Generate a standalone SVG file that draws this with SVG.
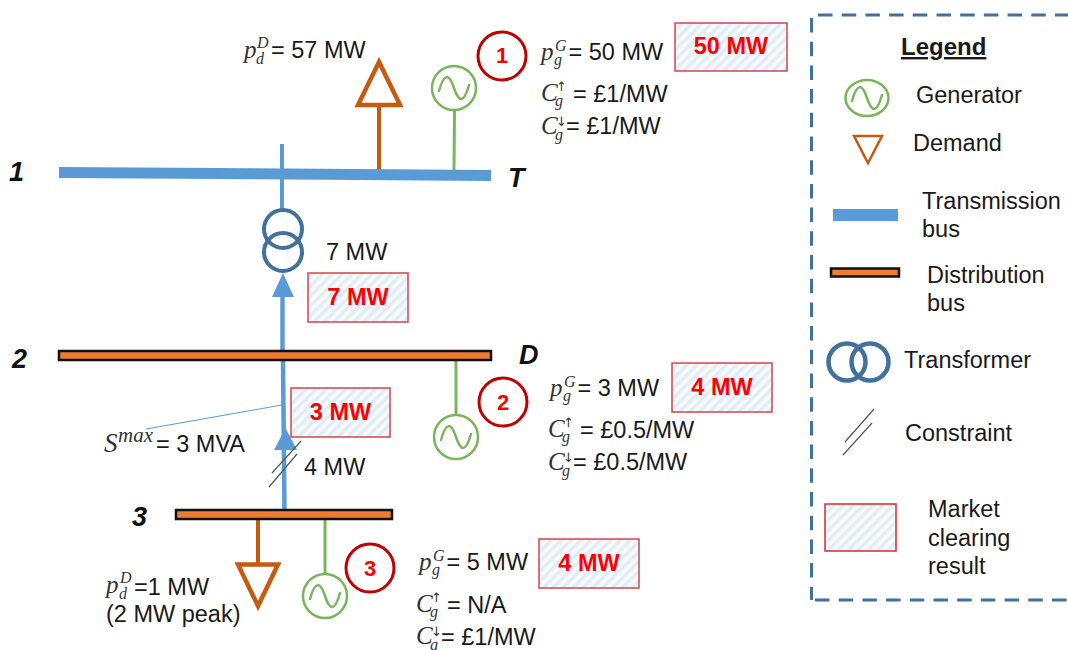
<svg xmlns="http://www.w3.org/2000/svg" xmlns:xlink="http://www.w3.org/1999/xlink" width="1068" height="650" viewBox="0 0 1068 650">
<style>
text{font-family:"Liberation Sans",Arial,sans-serif;font-size:23.500px;fill:#1a1a1a}
.m{font-family:"Liberation Serif","Times New Roman",serif;font-style:italic;fill:#333}
.b{font-size:25px}.s{font-size:16px}
.up{font-family:"DejaVu Sans",sans-serif;font-style:normal;font-size:13px;fill:#333}
.res{font-weight:bold;fill:#ff0000;text-anchor:middle}
.num{font-weight:bold;font-style:italic;font-size:27px;fill:#111}
.box{fill:url(#hatch);stroke:#d0454c;stroke-width:1.5}
.badge{fill:#fff;stroke:#c00000;stroke-width:3}
.bn{font-weight:bold;font-size:22px;fill:#ff0000;text-anchor:middle}
.gen{fill:#fff;stroke:#7ab55c;stroke-width:2.5}
.sine{fill:none;stroke:#7ab55c;stroke-width:2.5;stroke-linecap:round}
.gl{fill:none;stroke:#7ab55c;stroke-width:3}
.dem{fill:#fff;stroke:#c55a11;stroke-width:4.5}
.dl{stroke:#c55a11;stroke-width:4;fill:none}
.flow{stroke:#5b9bd5;stroke-width:4.5;fill:none}
.head{fill:#5b9bd5}
.tx{fill:none;stroke:#41719c;stroke-width:4}
.dbus{fill:#ed7d31;stroke:#111;stroke-width:2.5}
.con{stroke:#555;stroke-width:1.2}
.frame{fill:none;stroke:#41719c;stroke-width:3;stroke-dasharray:14.500 9.200}
</style>
<defs>
<pattern id="hatch" width="7" height="7" patternUnits="userSpaceOnUse" patternTransform="rotate(45)">
<rect width="7" height="7" fill="#f8fbfe"/><rect width="3.500" height="7" fill="#e2ecf7"/>
</pattern>
<path id="sine" class="sine" d="M-15,3 C-10,-15 -5,-15 0,0 C5,15 10,15 15,-3"/>
</defs>

<g id="connectors">
<line class="flow" x1="282" y1="144" x2="282" y2="212" style="stroke-width:4"/>
<line class="flow" x1="282.500" y1="295" x2="282.500" y2="351"/>
<line class="flow" x1="283" y1="361" x2="284.500" y2="511"/>
<polygon class="head" points="283,273 294,297 272,297"/>
<polygon class="head" points="285.500,428 297,450 274,450"/>
<line x1="146" y1="429" x2="282" y2="405" stroke="#5b9bd5" stroke-width="1"/>
<line class="con" x1="272" y1="473" x2="301" y2="441"/>
<line class="con" x1="269" y1="487" x2="297" y2="454"/>
<line class="dl" x1="379" y1="107" x2="379" y2="170"/>
<line class="gl" x1="454.500" y1="110" x2="454" y2="170"/>
<line class="gl" x1="456" y1="361" x2="456" y2="415"/>
<line class="dl" x1="258" y1="519" x2="258" y2="564"/>
<line class="gl" x1="325" y1="519" x2="325" y2="574"/>
</g>

<g id="bus1"><polygon points="59,167 491,170 491,181 59,178" fill="#5b9bd5"/><text class="num" x="9" y="181">1</text><text class="num" x="508" y="187">T</text></g>
<g id="bus2"><rect class="dbus" x="59" y="351" width="432" height="9"/><text class="num" x="12" y="368">2</text><text class="num" x="519" y="364">D</text></g>
<g id="bus3"><rect class="dbus" x="176" y="510" width="216" height="9"/><text class="num" x="132" y="526">3</text></g>

<g id="transformer"><circle class="tx" cx="283" cy="229" r="19"/><circle class="tx" cx="283" cy="252" r="19"/></g>

<g id="demand1"><polygon class="dem" points="379,62 358,105 400,105"/>
<text class="m b" x="244" y="58">p</text><text class="m s" x="257" y="48">D</text><text class="m s" x="256" y="64">d</text><text x="271" y="58">= 57 MW</text></g>

<g id="gen1"><circle class="gen" cx="454" cy="88" r="22"/><use xlink:href="#sine" href="#sine" x="454" y="88"/>
<circle class="badge" cx="502" cy="56" r="24"/><text class="bn" x="502" y="63">1</text>
<text class="m b" x="541" y="60">p</text><text class="m s" x="555" y="51">G</text><text class="m s" x="554" y="65">g</text><text x="568.500" y="60">= 50 MW</text>
<text class="m b" x="541" y="101">C</text><text class="up" x="556" y="91">↑</text><text class="m s" x="555" y="106">g</text><text x="573" y="102">= £1/MW</text>
<text class="m b" x="541" y="134">C</text><text class="up" x="556" y="126">↓</text><text class="m s" x="555" y="140">g</text><text x="566" y="134">= £1/MW</text>
<rect class="box" x="675" y="23" width="112" height="48"/><text class="res" x="731" y="54">50 MW</text></g>

<g id="flow12"><text x="326" y="260">7 MW</text><rect class="box" x="308" y="273" width="100" height="49"/><text class="res" x="358" y="305">7 MW</text></g>

<g id="flow23"><text class="m" x="104" y="452" style="font-size:27px">S</text><text class="m" x="118" y="442" style="font-size:21px">max</text><text x="156" y="452">= 3 MVA</text>
<text x="304" y="475">4 MW</text><rect class="box" x="291" y="388" width="99" height="49"/><text class="res" x="340.500" y="420">3 MW</text></g>

<g id="gen2"><circle class="gen" cx="456" cy="437" r="22"/><use xlink:href="#sine" href="#sine" x="456" y="437"/>
<circle class="badge" cx="503" cy="402" r="24"/><text class="bn" x="503" y="410">2</text>
<text class="m b" x="550" y="396">p</text><text class="m s" x="564" y="387">G</text><text class="m s" x="563" y="401">g</text><text x="577.500" y="396">= 3 MW</text>
<text class="m b" x="548" y="437">C</text><text class="up" x="563" y="427">↑</text><text class="m s" x="562" y="442">g</text><text x="580" y="438">= £0.5/MW</text>
<text class="m b" x="548" y="470">C</text><text class="up" x="563" y="462">↓</text><text class="m s" x="562" y="476">g</text><text x="573" y="470">= £0.5/MW</text>
<rect class="box" x="672" y="363" width="100" height="49"/><text class="res" x="722" y="395">4 MW</text></g>

<g id="demand3"><polygon class="dem" points="238,564.500 278,564.500 258,606"/>
<text class="m b" x="106" y="593">p</text><text class="m s" x="120" y="583">D</text><text class="m s" x="119" y="599">d</text><text x="134" y="595">=1 MW</text><text x="106" y="622">(2 MW peak)</text></g>

<g id="gen3"><circle class="gen" cx="325" cy="596" r="22"/><use xlink:href="#sine" href="#sine" x="325" y="596"/>
<circle class="badge" cx="370" cy="568" r="24"/><text class="bn" x="370" y="576">3</text>
<text class="m b" x="419" y="570">p</text><text class="m s" x="433" y="561">G</text><text class="m s" x="432" y="575">g</text><text x="446.500" y="570">= 5 MW</text>
<text class="m b" x="416" y="612">C</text><text class="up" x="431" y="602">↑</text><text class="m s" x="430" y="617">g</text><text x="447" y="613">= N/A</text>
<text class="m b" x="416" y="644">C</text><text class="up" x="431" y="636">↓</text><text class="m s" x="430" y="650">g</text><text x="441" y="645">= £1/MW</text>
<rect class="box" x="539" y="539" width="100" height="49"/><text class="res" x="589" y="571">4 MW</text></g>

<g id="legend">
<line class="frame" x1="818" y1="15" x2="1068" y2="15"/>
<line class="frame" x1="811.500" y1="18" x2="811.500" y2="600"/>
<line class="frame" x1="815" y1="600" x2="1068" y2="600"/>
<text x="901" y="55" font-weight="bold" text-decoration="underline" style="font-size:24px">Legend</text>
<ellipse class="gen" cx="867" cy="98" rx="21.500" ry="18"/><use xlink:href="#sine" href="#sine" x="867" y="98"/>
<text x="916" y="103">Generator</text>
<polygon points="854,136 882,136 868,163" fill="#fff" stroke="#c55a11" stroke-width="2.500"/>
<text x="913" y="151">Demand</text>
<rect x="833" y="209" width="65" height="12" fill="#5b9bd5"/>
<text x="922" y="209">Transmission</text><text x="922" y="237">bus</text>
<rect class="dbus" x="831" y="268.500" width="68" height="8"/>
<text x="927" y="283">Distribution</text><text x="927" y="311">bus</text>
<circle class="tx" cx="847" cy="362" r="18.500" style="stroke-width:4.500"/><circle class="tx" cx="870" cy="362" r="18.500" style="stroke-width:4.500"/>
<text x="904" y="368">Transformer</text>
<line class="con" x1="845" y1="442" x2="874" y2="409"/><line class="con" x1="843" y1="455" x2="872" y2="423"/>
<text x="905" y="441">Constraint</text>
<rect x="825" y="504" width="71" height="47" fill="url(#hatch)" stroke="#d92b2b" stroke-width="1.500"/>
<text x="928" y="517">Market</text><text x="928" y="546">clearing</text><text x="928" y="574">result</text>
</g>
</svg>
